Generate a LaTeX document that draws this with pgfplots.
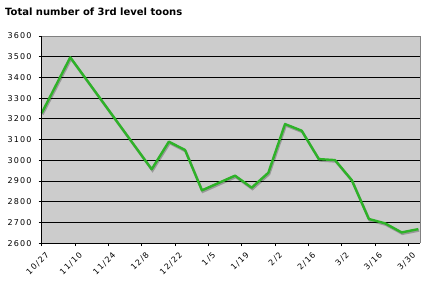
\documentclass[border=0pt]{standalone}
\usepackage{fontspec}
\setmainfont{DejaVu Sans}
\usepackage{pgfplots}
\pgfplotsset{compat=1.18}
\definecolor{linegreen}{RGB}{46,178,40}
\definecolor{bggray}{RGB}{204,204,204}
\definecolor{bordergray}{RGB}{128,128,128}
\newcommand{\tickfont}{\fontsize{8bp}{9bp}\selectfont\addfontfeatures{LetterSpace=15}}
\begin{document}
\begin{tikzpicture}
\begin{axis}[
  name=ax,
  scale only axis,
  width=378.3bp, height=207.2bp,
  xmin=0, xmax=158.9,
  ymin=2600, ymax=3600,
  ytick={2600,2700,...,3600},
  xtick={0,14,...,154},
  xticklabels={10/27,11/10,11/24,12/8,12/22,1/5,1/19,2/2,2/16,3/2,3/16,3/30},
  /pgf/number format/assume math mode=true,
  /pgf/number format/1000 sep={},
  tick align=outside,
  major tick length=3bp,
  xtick pos=bottom, ytick pos=left,
  tick style={black, line width=0.8bp},
  ymajorgrids,
  grid style={black, line width=0.9bp},
  axis background/.style={fill=bggray},
  axis line style={draw=none},
  yticklabel style={font=\tickfont, inner sep=0pt, anchor=east, xshift=-7bp},
  xticklabel style={font=\tickfont, inner sep=0pt, rotate=45, anchor=north east, yshift=-6bp, xshift=-1bp},
  clip=false,
]
\addplot[draw=black, opacity=0.25, line width=2.4bp, xshift=0.8bp, yshift=-1.4bp] coordinates {
(0,3228) (12,3497) (46.2,2957) (53.4,3090) (60.2,3050) (67.3,2855) (81.2,2926) (88.2,2868) (95.2,2940) (102.2,3175) (109.2,3143) (116.4,3006) (123.2,3001) (130.2,2905) (137.4,2717) (144.2,2696) (151.2,2652) (158.2,2668)
};
\addplot[draw=linegreen, line width=2.4bp, line join=round] coordinates {
(0,3228) (12,3497) (46.2,2957) (53.4,3090) (60.2,3050) (67.3,2855) (81.2,2926) (88.2,2868) (95.2,2940) (102.2,3175) (109.2,3143) (116.4,3006) (123.2,3001) (130.2,2905) (137.4,2717) (144.2,2696) (151.2,2652) (158.2,2668)
};
\draw[bordergray, line width=0.9bp] (rel axis cs:0,1) -- (rel axis cs:1,1) -- (rel axis cs:1,0);
\draw[black, line width=0.9bp] (rel axis cs:0,1) -- (rel axis cs:0,0) -- (rel axis cs:1,0);
\node[anchor=base west, inner sep=0pt, font=\fontsize{10bp}{12bp}\selectfont\bfseries] at ([xshift=-36.7bp, yshift=20.7bp]rel axis cs:0,1) {Total number of 3rd level toons};
\end{axis}
\pgfresetboundingbox
\path[use as bounding box] ([xshift=-41.7bp, yshift=-42.8bp]ax.south west) rectangle ([xshift=10bp, yshift=36bp]ax.north east);
\end{tikzpicture}
\end{document}
